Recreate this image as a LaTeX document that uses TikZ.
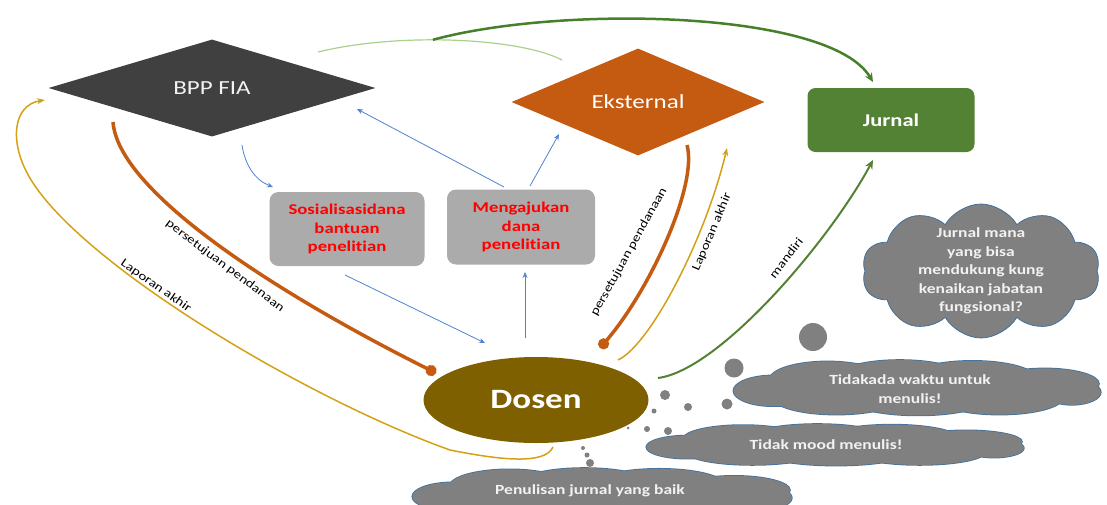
\documentclass[tikz,border=0pt]{standalone}
\usepackage{fontspec}
\setmainfont{Carlito}[FakeStretch=1.25,Ligatures=NoCommon]
\usetikzlibrary{shapes.geometric,shapes.symbols,arrows.meta}

\definecolor{bppgray}{RGB}{64,64,64}
\definecolor{eksorange}{RGB}{197,90,17}
\definecolor{jurgreen}{RGB}{84,130,53}
\definecolor{topgreen}{RGB}{70,128,40}
\definecolor{lightgreen}{RGB}{169,209,142}
\definecolor{dosbrown}{RGB}{127,96,0}
\definecolor{boxgray}{RGB}{171,171,171}
\definecolor{cloudgray}{RGB}{128,128,128}
\definecolor{cloudline}{RGB}{65,113,156}
\definecolor{cloudtext}{RGB}{242,242,242}
\definecolor{arrblue}{RGB}{80,130,210}
\definecolor{lapyellow}{RGB}{212,160,20}

% flat cloud from overlapping puffs: x, y, half width, half height, path options
\newcommand{\flatcloud}[5]{%
  \foreach \u/\v/\ru/\rv in {-0.80/0.10/0.22/0.55, -0.50/-0.30/0.32/0.65,
      -0.10/-0.40/0.35/0.60, 0.30/-0.35/0.35/0.62, 0.70/-0.15/0.30/0.55,
      0.85/0.15/0.16/0.45, 0.45/0.35/0.35/0.60, 0.00/0.40/0.38/0.58,
      -0.45/0.35/0.35/0.60, 0.00/0.00/0.85/0.60}
    \path[#5] ({#1+\u*#3},{#2+\v*#4}) ellipse [x radius={\ru*#3}, y radius={\rv*#4}];}

\tikzset{
  diamondnode/.style={diamond,inner sep=0pt,text=white},
  boxnode/.style={rectangle,rounded corners=9pt,fill=boxgray,text=red,
    font=\bfseries\fontsize{15}{18.3}\selectfont,align=center},
  cloudnode/.style={cloud,cloud puffs=#1,cloud puff arc=120,cloud ignores aspect,
    fill=cloudgray,draw=cloudline,line width=0.8pt,inner sep=0pt},
  puffline/.style={draw=cloudline,line width=1.6pt},
  pufffill/.style={fill=cloudgray},
  cloudtxt/.style={text=cloudtext,inner sep=0pt,align=center,
    font=\bfseries\fontsize{14}{18.5}\selectfont},
  bubble/.style={circle,fill=cloudgray,inner sep=0pt},
  blueline/.style={draw=arrblue,line width=0.8pt,-{Stealth[length=6pt,width=5pt]}},
  orangeline/.style={draw=eksorange,line width=3.5pt,-{Circle[length=11pt]}},
  yellowline/.style={draw=lapyellow,line width=1.5pt,-{Stealth[length=8pt,width=6pt]}},
  greenline/.style={draw=jurgreen,line width=2pt,-{Stealth[length=9pt,width=8pt]}},
  lbl/.style={font=\fontsize{12}{14}\selectfont,inner sep=0pt},
}

\begin{document}
\begin{tikzpicture}[x=1pt,y=-1pt]
\useasboundingbox (0,0) rectangle (1107,504);
\clip (0,0) rectangle (1107,504);

%Shape: Diamond [BPP FIA]
\node[diamondnode, fill=bppgray, minimum width=327pt, minimum height=97pt,
  text=cloudtext, font=\fontsize{20}{24}\selectfont] (bpp) at (212,88) {BPP FIA};
%Shape: Diamond [Eksternal]
\node[diamondnode, fill=eksorange, minimum width=253pt, minimum height=95pt,
  font=\fontsize{20}{24}\selectfont] (eks) at (638,102) {Eksternal};
%Shape: Rectangle [Jurnal]
\node[rectangle, rounded corners=8pt, fill=jurgreen, text=white, minimum width=167pt,
  minimum height=64pt, font=\bfseries\fontsize{18}{22}\selectfont] (jurnal) at (891,120) {Jurnal};
%Shape: Rectangle [sosialisasi]
\node[boxnode, minimum width=155pt, minimum height=74pt] (soc) at (347,229)
  {Sosialisasidana\\bantuan\\penelitian};
%Shape: Rectangle [mengajukan]
\node[boxnode, minimum width=148pt, minimum height=75pt] (meng) at (521,227)
  {Mengajukan\\dana\\penelitian};
%Shape: Ellipse [Dosen]
\node[ellipse, fill=dosbrown, text=white, minimum width=225pt, minimum height=86pt,
  font=\bfseries\fontsize{28}{32}\selectfont] (dosen) at (536,400) {Dosen};

%Shape: Cloud [jurnal mana]
\node[cloudnode=10, minimum width=238pt, minimum height=134pt,
  label={[cloudtxt]center:{Jurnal mana\\yang bisa\\mendukung kung\\kenaikan jabatan\\fungsional?}}]
  (cjurnal) at (981,271) {};
%Shape: flat clouds
\flatcloud{918}{388}{181}{28}{puffline}
\flatcloud{918}{388}{181}{28}{pufffill}
\node[cloudtxt] (cwaktu) at (910,389) {Tidakada waktu untuk\\menulis!};
\flatcloud{836}{445}{186}{21}{puffline}
\flatcloud{836}{445}{186}{21}{pufffill}
\node[cloudtxt] (cmood) at (826,445) {Tidak mood menulis!};
\flatcloud{603}{494}{187}{26}{puffline}
\flatcloud{603}{494}{187}{26}{pufffill}
\node[cloudtxt] (cbaik) at (590,491) {Penulisan jurnal yang baik};

%Shape: Bubbles
\node[bubble, minimum size=28pt] (b1) at (813,337) {};
\node[bubble, minimum size=19pt] (b2) at (734,368) {};
\node[bubble, minimum size=10pt] (b3) at (665,395) {};
\node[bubble, minimum size=8pt] (b4) at (688,407) {};
\node[bubble, minimum size=11pt] (b5) at (727,404) {};
\node[bubble, minimum size=5pt] (b6) at (654,411) {};
\node[bubble, minimum size=6pt] (b7) at (647,429) {};
\node[bubble, minimum size=8pt] (b8) at (668,431) {};
\node[bubble, minimum size=3pt] (b9) at (628,428) {};
\node[bubble, minimum size=4pt] (b10) at (583,448) {};
\node[bubble, minimum size=5pt] (b11) at (587,455) {};
\node[bubble, minimum size=8pt] (b12) at (590,463) {};

%Connectors: blue
\draw[blueline] ([shift={(30,57)}]bpp.center) .. controls (245,165) and (255,180) .. ([shift={(-74,-42)}]soc.center);
\draw[blueline] ([shift={(-2,46)}]soc.center) -- ([shift={(-51,-57)}]dosen.center);
\draw[blueline] ([shift={(-11,-62)}]dosen.center) -- ([shift={(4,45)}]meng.center);
\draw[blueline] ([shift={(-17,-40)}]meng.center) -- ([shift={(145,21)}]bpp.center);
\draw[blueline] ([shift={(9,-41)}]meng.center) -- ([shift={(-79,32)}]eks.center);

%Connectors: persetujuan pendanaan
\draw[orangeline] ([shift={(-99,34)}]bpp.center) .. controls (118,190) and (270,290) .. ([shift={(-100,-27)}]dosen.center);
\draw[orangeline] ([shift={(49,43)}]eks.center) .. controls (698,185) and (650,290) .. ([shift={(64,-52)}]dosen.center);

%Connectors: laporan akhir
\draw[yellowline] ([shift={(17,47)}]dosen.center) .. controls (545,465) and (500,460) .. (450,450)
  .. controls (310,400) and (90,270) .. (33,183)
  .. controls (8,145) and (12,105) .. ([shift={(-167,12)}]bpp.center);
\draw[yellowline] ([shift={(82,-40)}]dosen.center) .. controls (650,345) and (705,240) .. ([shift={(89,46)}]eks.center);

%Connectors: green
\draw[lightgreen, line width=1.2pt] ([shift={(106,-36)}]bpp.center) .. controls (400,32) and (520,38) .. ([shift={(-76,-42)}]eks.center)
  coordinate[pos=0.42] (split);
\draw[greenline, draw=topgreen, line width=2.5pt] (split) .. controls (560,5) and (830,10) .. ([shift={(-18,-38)}]jurnal.center);
\draw[greenline] ([shift={(122,-22)}]dosen.center) .. controls (720,370) and (830,240) .. ([shift={(-18,40)}]jurnal.center);

%Labels
\node[lbl, rotate=-37] (lblpl) at (225,266) {persetujuan pendanaan};
\node[lbl, rotate=-35] (lblll) at (156,286) {Laporan akhir};
\node[lbl, rotate=61] (lblpr) at (629,252) {persetujuan pendanaan};
\node[lbl, rotate=67] (lbllr) at (712,232) {Laporan akhir};
\node[lbl, rotate=52] (lblmd) at (786,258) {mandiri};
\end{tikzpicture}
\end{document}
